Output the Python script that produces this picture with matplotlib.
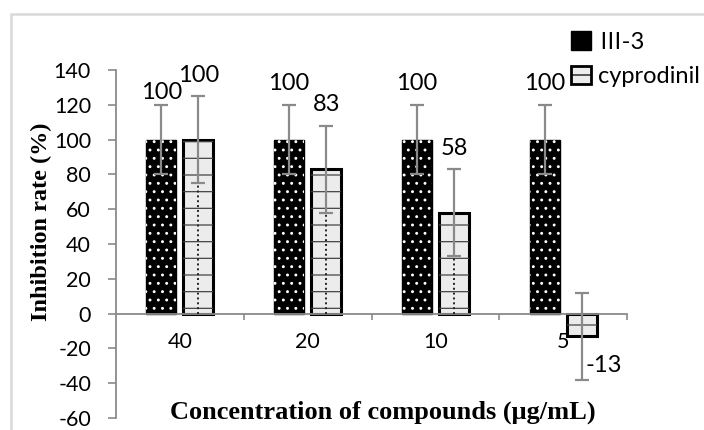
import matplotlib
matplotlib.use("Agg")
import matplotlib.pyplot as plt
from matplotlib.patches import Patch, Rectangle
import numpy as np

# Datos
concentraciones = ["40", "20", "10", "5"]
valores_iii3 = [100, 100, 100, 100]
error_iii3 = [20, 20, 20, 20]
valores_cyp = [100, 83, 58, -13]
error_cyp = [25, 25, 25, 25]
etiquetas_iii3 = ["100", "100", "100", "100"]
etiquetas_cyp = ["100", "83", "58", "-13"]

plt.rcParams["axes.unicode_minus"] = False
plt.rcParams["hatch.linewidth"] = 0.9
fuente_num = ["Lato", "Noto Sans CJK SC", "DejaVu Sans"]
gris = "#8a8a8a"

fig = plt.figure(figsize=(7.04, 4.30), dpi=100)
ax = fig.add_axes([116 / 704, 1 - 418 / 430, (627 - 116) / 704, (418 - 70) / 430])

x = np.arange(len(concentraciones))
ancho = 0.235
desp = 0.145

# Barras III-3: negro con puntos blancos
ax.bar(x - desp, valores_iii3, ancho, color="black", edgecolor="black", linewidth=1, zorder=2)
ax.bar(x - desp, valores_iii3, ancho, fill=False, edgecolor="white", hatch="..", linewidth=0, zorder=3)

# Barras cyprodinil: gris claro con líneas punteadas
ax.bar(x + desp, valores_cyp, ancho, color="#ececec", edgecolor="black", linewidth=2.2, zorder=2)
ax.bar(x + desp, valores_cyp, ancho, fill=False, edgecolor="#444444", hatch="-", linewidth=0, zorder=3)
ax.vlines(x + desp, 0, valores_cyp, colors="#222222", linestyles=(0, (1, 1.5)), linewidth=1.4, zorder=3)

# Barras de error
ax.errorbar(x - desp, valores_iii3, yerr=error_iii3, fmt="none", ecolor=gris, elinewidth=1.6,
            capsize=5, capthick=1.6, zorder=4)
ax.errorbar(x + desp, valores_cyp, yerr=error_cyp, fmt="none", ecolor=gris, elinewidth=1.6,
            capsize=5, capthick=1.6, zorder=4)

# Etiquetas de datos
for i in range(len(x)):
    dy = 9 if i == 0 else 15
    ax.annotate(etiquetas_iii3[i], (x[i] - desp, valores_iii3[i] + error_iii3[i]),
                xytext=(0, dy), textcoords="offset points", ha="center", va="center",
                fontsize=17, family=fuente_num)
for i in range(len(x)):
    if valores_cyp[i] < 0:
        ax.annotate(etiquetas_cyp[i], (x[i] + desp, valores_cyp[i] - error_cyp[i]),
                    xytext=(16, 10), textcoords="offset points", ha="center", va="center",
                    fontsize=17, family=fuente_num)
    else:
        ax.annotate(etiquetas_cyp[i], (x[i] + desp, valores_cyp[i] + error_cyp[i]),
                    xytext=(0, 15), textcoords="offset points", ha="center", va="center",
                    fontsize=17, family=fuente_num)

# Ejes
ax.set_xlim(-0.5, len(x) - 0.5)
ax.set_ylim(-60, 140)
ax.set_yticks(np.arange(-60, 141, 20))
ax.spines["bottom"].set_position(("data", 0))
for lado in ["top", "right"]:
    ax.spines[lado].set_visible(False)
for lado in ["left", "bottom"]:
    ax.spines[lado].set_color(gris)
    ax.spines[lado].set_linewidth(1.3)
ax.tick_params(axis="y", direction="out", length=6, width=1.2, color=gris, pad=12, labelsize=15.5)
ax.set_xticks(np.arange(len(x)) + 0.5)
ax.set_xticklabels([])
ax.set_xticks(x, minor=True)
ax.set_xticklabels(concentraciones, minor=True)
ax.tick_params(axis="x", which="major", direction="out", length=4, width=1.2, color=gris)
ax.tick_params(axis="x", which="minor", length=0, pad=13, labelsize=15.5)
for etiqueta in ax.get_yticklabels() + ax.get_xticklabels(minor=True):
    etiqueta.set_family(fuente_num)

# Títulos de ejes
fig.text(41 / 704, 1 - 222 / 430, "Inhibition rate (%)", rotation=90, ha="center", va="center",
         family="Liberation Serif", fontweight="bold", fontsize=17.5)
fig.text(383 / 704, 1 - 412 / 430, "Concentration of compounds (\u03bcg/mL)", ha="center", va="center",
         family="Liberation Serif", fontweight="bold", fontsize=19)

# Leyenda
h1 = Patch(facecolor="black", edgecolor="black", hatch="..")
h2 = Patch(facecolor="#ececec", edgecolor="black", linewidth=2, hatch="-")
fig.legend([h1, h2], ["\u2162-3", "cyprodinil"], loc="upper left", bbox_to_anchor=(571 / 704, 1 - 31 / 430),
           frameon=False, handlelength=0.85, handleheight=0.85, handletextpad=0.3, labelspacing=0.55,
           borderaxespad=0, borderpad=0, prop={"family": fuente_num, "size": 17})

# Marco del gráfico
fig.patches.append(Rectangle((11 / 704, -0.1), 1.2, 1 - 14 / 430 + 0.1, transform=fig.transFigure,
                             fill=False, edgecolor="#d9d9d9", linewidth=1.8, zorder=0))

fig.savefig("out.png", dpi=100)
